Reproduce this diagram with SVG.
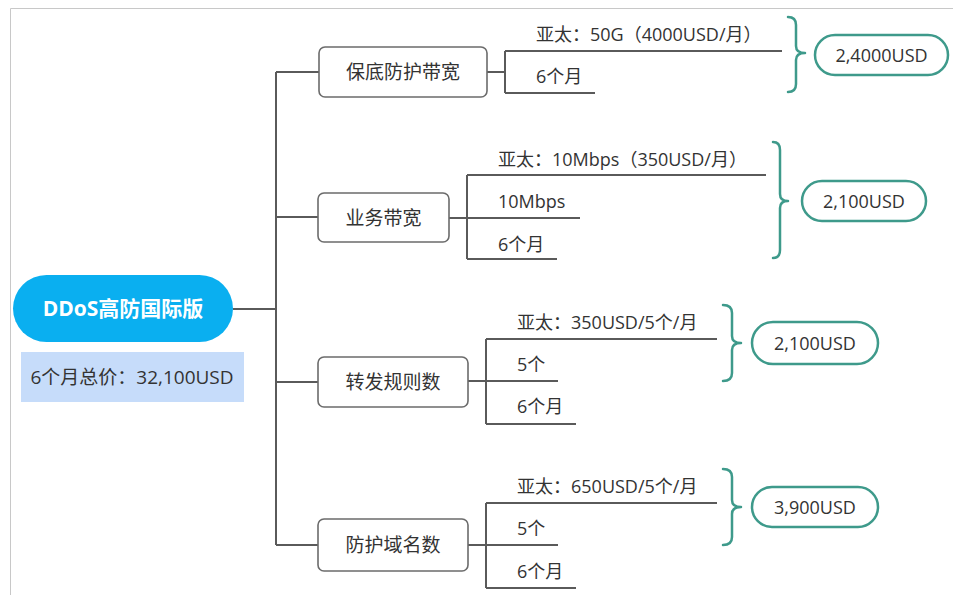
<svg xmlns="http://www.w3.org/2000/svg" width="953" height="595" viewBox="0 0 953 595">
<style>
text{font-family:"Open Sans","Noto Sans CJK SC",sans-serif;fill:#333;}
.lbl{font-size:18px;}
.box{fill:#fff;stroke:#6b6b6b;stroke-width:1.6;}
.ln{fill:none;stroke:#5a5a5a;stroke-width:2;}
.brace{fill:none;stroke:#3e9a8b;stroke-width:2.5;stroke-linecap:round;stroke-linejoin:round;}
.pill{fill:#fff;stroke:#3e9a8b;stroke-width:2.5;}
.mid{dominant-baseline:central;}
.c{text-anchor:middle;}
</style>
<rect width="953" height="595" fill="#fff"/>
<path d="M10.5,595 V8.5 H953" fill="none" stroke="#c8c8c8" stroke-width="1"/>

<g id="connectors">
  <path class="ln" d="M233,309 H276 M276,72 V545 M276,72 H319 M276,217 H318 M276,382 H318 M276,545 H318"/>
  <path class="ln" d="M487,72 H505 M505,51 V93 M505,51 H782 M505,93 H595"/>
  <path class="ln" d="M449,218 H467 M467,175 V259 M467,175 H766 M467,218 H580 M467,259 H557"/>
  <path class="ln" d="M468,381 H486 M486,339 V424 M486,339 H717 M486,381 H558 M486,424 H576"/>
  <path class="ln" d="M468,545 H486 M486,503 V588 M486,503 H717 M486,545 H558 M486,588 H576"/>
  <path class="brace" d="M788,17 Q796,17 796,25 V46 Q796,53 805,53 Q796,53 796,60 V84 Q796,92 788,92"/>
  <path class="brace" d="M773,142 Q780,142 780,150 V194 Q780,201 788,201 Q780,201 780,208 V250 Q780,258 773,258"/>
  <path class="brace" d="M723,305 Q732,305 732,313 V336 Q732,343 741,343 Q732,343 732,350 V373 Q732,381 723,381"/>
  <path class="brace" d="M723,469 Q732,469 732,477 V500 Q732,507 741,507 Q732,507 732,514 V537 Q732,545 723,545"/>
</g>

<g id="root">
  <rect x="13" y="275" width="220" height="67" rx="33.5" fill="#0aaff0"/>
  <text x="123" y="308" class="mid c" style="font-size:21px;font-weight:bold;fill:#fff">DDoS高防国际版</text>
</g>
<g id="total">
  <rect x="21" y="352" width="223" height="50" fill="#c6dcfa"/>
  <text x="132" y="377" class="mid c" style="font-size:19px">6个月总价：32,100USD</text>
</g>

<g id="n1">
  <rect class="box" x="319" y="47" width="168" height="50" rx="6"/>
  <text x="403" y="72" class="mid c" style="font-size:19px">保底防护带宽</text>
</g>
<g id="n1a"><text x="536" y="34" class="mid lbl">亚太：50G（4000USD/月）</text></g>
<g id="n1b"><text x="536" y="76" class="mid lbl">6个月</text></g>
<g id="p1">
  <rect class="pill" x="815" y="35" width="133" height="40" rx="20"/>
  <text x="881.5" y="55" class="mid c lbl">2,4000USD</text>
</g>

<g id="n2">
  <rect class="box" x="318" y="193" width="131" height="49" rx="6"/>
  <text x="383.5" y="217.5" class="mid c" style="font-size:19px">业务带宽</text>
</g>
<g id="n2a"><text x="498" y="159" class="mid lbl">亚太：10Mbps（350USD/月）</text></g>
<g id="n2b"><text x="498" y="201" class="mid lbl">10Mbps</text></g>
<g id="n2c"><text x="498" y="244" class="mid lbl">6个月</text></g>
<g id="p2">
  <rect class="pill" x="802" y="181" width="124" height="40" rx="20"/>
  <text x="864" y="201" class="mid c lbl">2,100USD</text>
</g>

<g id="n3">
  <rect class="box" x="318" y="357" width="150" height="50" rx="6"/>
  <text x="393" y="382" class="mid c" style="font-size:19px">转发规则数</text>
</g>
<g id="n3a"><text x="517" y="322" class="mid lbl">亚太：350USD/5个/月</text></g>
<g id="n3b"><text x="517" y="364" class="mid lbl">5个</text></g>
<g id="n3c"><text x="517" y="406" class="mid lbl">6个月</text></g>
<g id="p3">
  <rect class="pill" x="752" y="322" width="126" height="42" rx="21"/>
  <text x="815" y="343" class="mid c lbl">2,100USD</text>
</g>

<g id="n4">
  <rect class="box" x="318" y="519" width="150" height="52" rx="6"/>
  <text x="393" y="545" class="mid c" style="font-size:19px">防护域名数</text>
</g>
<g id="n4a"><text x="517" y="486" class="mid lbl">亚太：650USD/5个/月</text></g>
<g id="n4b"><text x="517" y="528" class="mid lbl">5个</text></g>
<g id="n4c"><text x="517" y="571" class="mid lbl">6个月</text></g>
<g id="p4">
  <rect class="pill" x="752" y="487" width="126" height="40" rx="20"/>
  <text x="815" y="507" class="mid c lbl">3,900USD</text>
</g>
</svg>
